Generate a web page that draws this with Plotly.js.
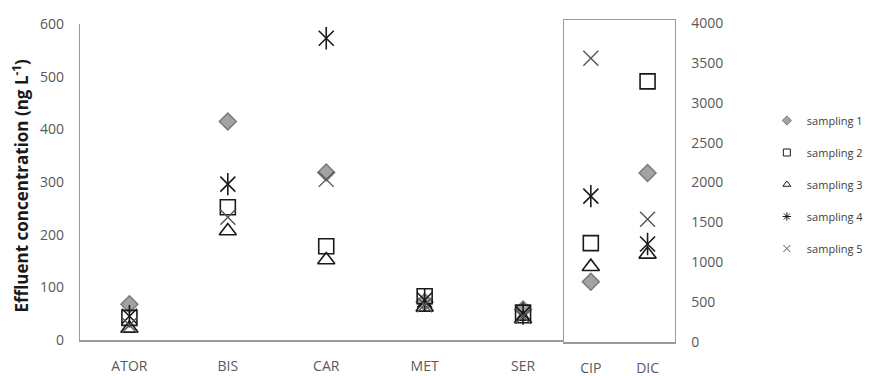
<!DOCTYPE html>
<html>
<head>
<meta charset="utf-8">
<script src="https://cdn.plot.ly/plotly-3.0.1.min.js"></script>
<style>html,body{margin:0;padding:0;background:#fff;}#chart{width:869px;height:376px;}</style>
</head>
<body>
<div id="chart"></div>
<script>
// Left panel (ng/L, left axis)
const catsLeft = ["ATOR", "BIS", "CAR", "MET", "SER"];
const s1Left = [68, 415, 318, 72, 58];
const s2Left = [42, 252, 178, 83, 52];
const s3Left = [22, 207, 152, 62, 40];
const s4Left = [45, 296, 573, 76, 50];
const s5Left = [28, 233, 305, 67, 45];
// Right panel (ng/L, right axis)
const catsRight = ["CIP", "DIC"];
const s1Right = [755, 2120];
const s2Right = [1240, 3270];
const s3Right = [945, 1100];
const s4Right = [1830, 1230];
const s5Right = [3560, 1540];
const seriesNames = ["sampling 1", "sampling 2", "sampling 3", "sampling 4", "sampling 5"];

const styles = [
  {symbol: "diamond", size: 13, color: "#a3a3a3", line: {color: "#7a7a7a", width: 1.5}},
  {symbol: "square-open", size: 15, color: "#1a1a1a", line: {width: 1.6}},
  {symbol: "triangle-up-open", size: 15, color: "#1a1a1a", line: {width: 1.6}},
  {symbol: "x-thin-open", size: 15, color: "#1a1a1a", line: {width: 1.6}},
  {symbol: "x-thin-open", size: 15, color: "#555555", line: {width: 1.4}}
];

const leftData = [s1Left, s2Left, s3Left, s4Left, s5Left];
const rightData = [s1Right, s2Right, s3Right, s4Right, s5Right];
const traces = [];
for (let i = 0; i < 5; i++) {
  const st = styles[i];
  const mk = {symbol: st.symbol, size: st.size, color: st.color, line: Object.assign({color: st.color}, st.line)};
  traces.push({type: "scatter", mode: "markers", x: catsLeft, y: leftData[i], xaxis: "x", yaxis: "y",
    marker: mk, showlegend: false, hoverinfo: "skip"});
  traces.push({type: "scatter", mode: "markers", x: catsRight, y: rightData[i], xaxis: "x2", yaxis: "y2",
    marker: mk, showlegend: false, hoverinfo: "skip"});
  if (i === 3) {
    const vm = {symbol: "line-ns-open", size: 16, color: "#1a1a1a", line: {color: "#1a1a1a", width: 1.6}};
    traces.push({type: "scatter", mode: "markers", x: catsLeft, y: s4Left, xaxis: "x", yaxis: "y", marker: vm, showlegend: false, hoverinfo: "skip"});
    traces.push({type: "scatter", mode: "markers", x: catsRight, y: s4Right, xaxis: "x2", yaxis: "y2", marker: vm, showlegend: false, hoverinfo: "skip"});
  }
}
// legend entries
const legSym = ["diamond", "square-open", "triangle-up-open", "asterisk-open", "x-thin-open"];
for (let i = 0; i < 5; i++) {
  traces.push({type: "scatter", mode: "markers", x: [null], y: [null], xaxis: "x", yaxis: "y",
    name: seriesNames[i], legendgroup: "g" + i, showlegend: true,
    marker: {symbol: legSym[i], size: 7, color: styles[i].color, line: {color: i === 0 ? "#7a7a7a" : styles[i].color, width: 1}}});
}

const W = 869, H = 376;
const tickFont = {family: "Open Sans, Lato, sans-serif", size: 14, color: "#595959"};
const layout = {
  width: W, height: H,
  margin: {l: 0, r: 0, t: 0, b: 0},
  paper_bgcolor: "#fff", plot_bgcolor: "rgba(0,0,0,0)",
  showlegend: true,
  legend: {x: 784 / W, y: 1 - 106 / H, xanchor: "left", yanchor: "top", traceorder: "grouped", tracegroupgap: 13,
    font: {family: "Open Sans, Lato, sans-serif", size: 11, color: "#404040"}, itemwidth: 30, bgcolor: "rgba(0,0,0,0)"},
  xaxis: {type: "category", domain: [82 / W, 577 / W], range: [-0.5, 4.42], anchor: "y",
    showline: true, linecolor: "#9a9a9a", linewidth: 1.5, ticks: "", showgrid: false, zeroline: false,
    tickfont: tickFont, ticklabelstandoff: 13},
  yaxis: {domain: [1 - 340 / H, 1 - 24 / H], range: [0, 600], anchor: "x", tickvals: [0, 100, 200, 300, 400, 500, 600],
    showline: true, linecolor: "#9a9a9a", linewidth: 1.5, ticks: "", showgrid: false, zeroline: false,
    tickfont: tickFont, ticklabelstandoff: 12},
  xaxis2: {type: "category", domain: [577 / W, 690 / W], range: [-0.466, 1.482], anchor: "y2",
    showline: true, mirror: true, linecolor: "#9a9a9a", linewidth: 1.5, ticks: "", showgrid: false, zeroline: false,
    tickfont: tickFont, ticklabelstandoff: 13},
  yaxis2: {domain: [1 - 342 / H, 1 - 20 / H], range: [0, 4040], anchor: "x2", side: "right",
    tickvals: [0, 500, 1000, 1500, 2000, 2500, 3000, 3500, 4000],
    showline: true, mirror: true, linecolor: "#9a9a9a", linewidth: 1.5, ticks: "", showgrid: false, zeroline: false,
    tickfont: tickFont, ticklabelstandoff: 12},
  annotations: [{
    text: "<b>Effluent concentration (ng L<sup>-1</sup>)</b>", textangle: -90,
    xref: "paper", yref: "paper", x: 20 / W, y: 1 - 186 / H, xanchor: "center", yanchor: "middle", showarrow: false,
    font: {family: "Open Sans, Lato, sans-serif", size: 17, color: "#1a1a1a"}
  }]
};
Plotly.newPlot("chart", traces, layout, {staticPlot: true, displayModeBar: false});
</script>
</body>
</html>
